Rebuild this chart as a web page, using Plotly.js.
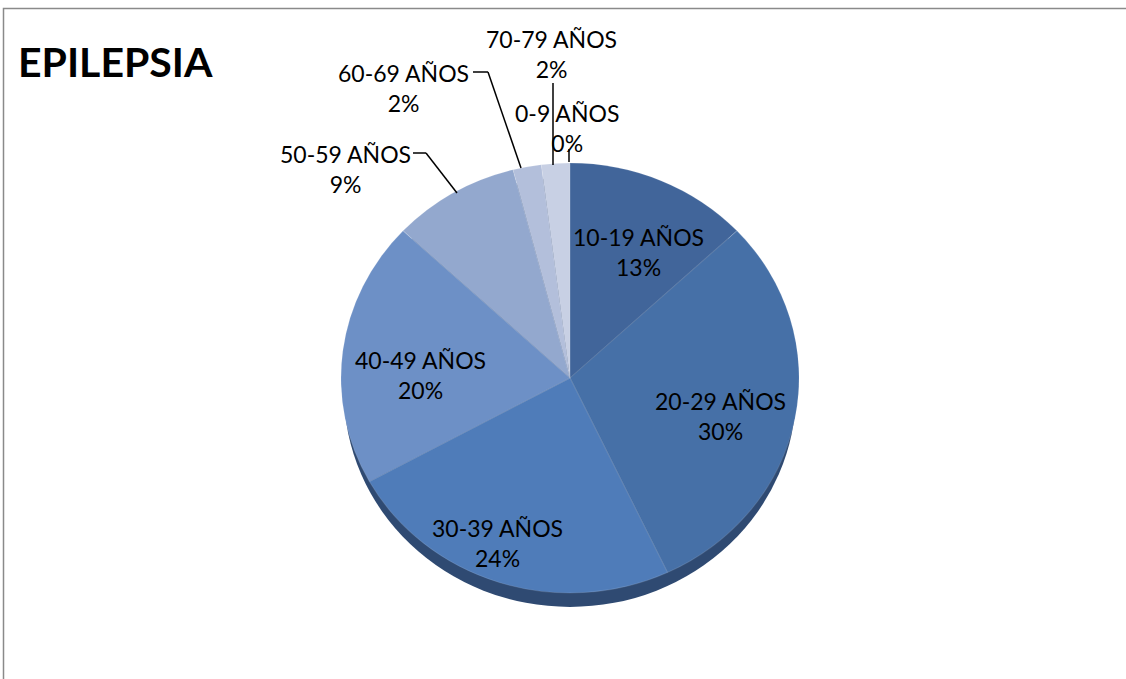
<!DOCTYPE html>
<html>
<head>
<meta charset="utf-8">
<script src="https://cdn.plot.ly/plotly-3.0.1.min.js"></script>
<style>
  html, body { margin: 0; padding: 0; background: #ffffff; }
  #chart { width: 1126px; height: 679px; }
</style>
</head>
<body>
<div id="chart"></div>
<script>
// Age groups and their share of epilepsy cases (%)
const ageGroups = ['0-9 AÑOS', '10-19 AÑOS', '20-29 AÑOS', '30-39 AÑOS', '40-49 AÑOS', '50-59 AÑOS', '60-69 AÑOS', '70-79 AÑOS'];
const shares = [0, 13, 30, 24, 20, 9, 2, 2];
const sliceColors = ['#dfe4ef', '#41659a', '#4670a7', '#4f7cb9', '#6d90c6', '#93a8ce', '#b3bfdb', '#c8d0e4'];

const W = 1126, H = 679;
const px = x => x / W;
const py = y => 1 - y / H;

// pie geometry (pixels): centre and radii of the slightly tilted disc
const CX = 570, CY = 378, RY = 215, RX = 229;

// label anchor points (pixel centres of each two-line label)
const labelPos = {
  '0-9 AÑOS':   [567, 128],
  '10-19 AÑOS': [638, 252],
  '20-29 AÑOS': [720, 416],
  '30-39 AÑOS': [497, 543],
  '40-49 AÑOS': [420, 375],
  '50-59 AÑOS': [345, 169],
  '60-69 AÑOS': [403, 88],
  '70-79 AÑOS': [551, 54]
};

// leader lines for the labels placed outside the pie (pixel polylines)
const leaders = [
  [[413, 153], [426, 153], [457, 193]],
  [[473, 72], [488, 72], [521, 168]],
  [[553, 83], [553, 165]],
  [[569, 149], [569, 162]]
];

const annotations = ageGroups.map((g, i) => ({
  x: px(labelPos[g][0]), y: py(labelPos[g][1]),
  xref: 'paper', yref: 'paper', xanchor: 'center', yanchor: 'middle',
  showarrow: false, align: 'center',
  text: g + '<br>' + shares[i] + '%',
  font: { family: 'Lato, sans-serif', size: 23, color: '#000000' }
}));

annotations.push({
  x: px(16), y: py(61), xref: 'paper', yref: 'paper',
  xanchor: 'left', yanchor: 'middle', showarrow: false,
  text: '<b>EPILEPSIA</b>',
  font: { family: 'Lato, sans-serif', size: 41, color: '#000000' }
});

const shapes = [];
// outer frame
shapes.push({
  type: 'rect', xref: 'paper', yref: 'paper',
  x0: px(3.5), x1: px(1140), y0: py(8.5), y1: py(700),
  line: { color: '#8a8a8a', width: 1.5 }, fillcolor: 'rgba(0,0,0,0)', layer: 'below'
});
// depth rim under the disc
shapes.push({
  type: 'circle', xref: 'paper', yref: 'paper',
  x0: px(CX - RX + 3), x1: px(CX + RX - 3), y0: py(CY - RY + 14), y1: py(CY + RY + 14),
  line: { width: 0 }, fillcolor: '#2f4a72', layer: 'below'
});
leaders.forEach(pts => {
  for (let k = 0; k < pts.length - 1; k++) {
    shapes.push({
      type: 'line', xref: 'paper', yref: 'paper',
      x0: px(pts[k][0]), y0: py(pts[k][1]), x1: px(pts[k + 1][0]), y1: py(pts[k + 1][1]),
      line: { color: '#000000', width: 1.5 }
    });
  }
});

const data = [{
  type: 'pie',
  labels: ageGroups,
  values: shares,
  sort: false,
  direction: 'clockwise',
  rotation: 0,
  textinfo: 'none',
  hoverinfo: 'label+percent',
  marker: { colors: sliceColors, line: { color: 'rgba(255,255,255,0.12)', width: 1 } },
  domain: { x: [px(CX - RY), px(CX + RY)], y: [py(CY + RY), py(CY - RY)] },
  showlegend: false
}];

const layout = {
  width: W, height: H,
  margin: { l: 0, r: 0, t: 0, b: 0 },
  paper_bgcolor: '#ffffff',
  showlegend: false,
  annotations: annotations,
  shapes: shapes
};

Plotly.newPlot('chart', data, layout, { displayModeBar: false, staticPlot: true }).then(gd => {
  // widen the disc horizontally so it reads as a slightly tilted pie
  const sx = RX / RY;
  gd.querySelectorAll('.pielayer .trace').forEach(t => {
    t.setAttribute('transform', `translate(${CX},${CY}) scale(${sx},1) translate(${-CX},${-CY})`);
  });
});
</script>
</body>
</html>
